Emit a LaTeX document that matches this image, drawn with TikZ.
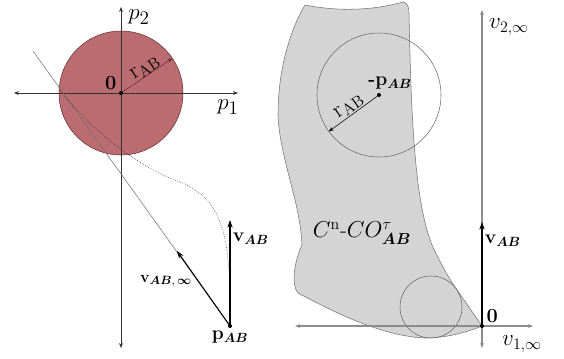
\documentclass[tikz,border=0pt]{standalone}
\usepackage{amsmath,amssymb}
\usepackage{tikz}
\usetikzlibrary{arrows.meta,positioning,calc}
\definecolor{diskred}{RGB}{186,108,112}
\definecolor{diskrim}{RGB}{105,45,50}
\definecolor{regiongray}{RGB}{212,212,212}

\begin{document}
\begin{tikzpicture}[
  x=0.75pt, y=-0.75pt,
  axis/.style={{Stealth[length=1.3mm,width=1mm]}-{Stealth[length=1.3mm,width=1mm]}, thin, black!80},
  grayaxis/.style={axis, black!45, line width=0.8pt},
  vel/.style={-{Stealth[length=2mm,width=1.4mm]}, line width=0.8pt},
  radline/.style={-{Stealth[length=1.3mm,width=1mm]}, thin},
  lbl/.style={font=\fontsize{14}{16}\selectfont, inner sep=1pt},
  biglbl/.style={font=\fontsize{19}{20}\selectfont, inner sep=1pt},
  dot/.style={circle, fill=black, inner sep=0pt, minimum size=3pt}
]
  \useasboundingbox (0,0) rectangle (564,358);

  % left: position space
  \coordinate (o1) at (121,93);
  \draw[fill=diskred, draw=diskrim, thin] (o1) circle[radius=46.5pt];
  \coordinate (p1w) at (14,93);
  \coordinate (p1e) at (238,93);
  \coordinate (p2s) at (121,348);
  \coordinate (p2n) at (121,7);
  \draw[axis] (p1w) -- (p1e);
  \draw[axis] (p2s) -- (p2n);
  \node[dot] (zero1) at (o1) {};
  \node[lbl, font=\fontsize{15}{16}\selectfont\bfseries, above left=0pt and 1pt of zero1] (zerolbl1) {0};
  \node[biglbl] (p1lbl) at (228,107) {$p_1$};
  \node[biglbl] (p2lbl) at (139,17) {$p_2$};
  \coordinate (rim1) at ($(o1)+(-34:62)$);
  \draw[radline, diskrim] (zero1) -- (rim1);
  \node[lbl, font=\fontsize{17}{18}\selectfont, rotate=34, above, inner sep=0pt] (r1lbl) at ($(o1)!0.55!(rim1)$) {$\mathrm{r}_{\mathrm{AB}}$};

  \node[dot] (pab) at (230,326) {};
  \coordinate (tan0) at (33,51);
  \draw[black!55, thin] (tan0) -- (pab.center);
  \draw[densely dotted, black!85, thin] (pab.center) .. controls (231,240) and (225,200) .. (180,182)
    .. controls (140,168) and (90,130) .. (60,90);
  \coordinate (vinf) at (177,251);
  \coordinate (vab1) at (230,220);
  \draw[vel] (pab.center) -- (vinf);
  \draw[vel] (pab.center) -- (vab1);
  \node[lbl, below=1pt of pab] (pablbl) {$\mathbf{p}_{\boldsymbol{AB}}$};
  \node[lbl, right=1pt of vab1, yshift=-14] (vablbl1) {$\mathbf{v}_{\boldsymbol{AB}}$};
  \node[lbl, font=\fontsize{13}{14}\selectfont] (vinflbl) at (166,281) {$\mathbf{v}_{\boldsymbol{AB},\,\boldsymbol{\infty}}$};

  % right: velocity space
  \draw[fill=regiongray, draw=black!55, thin] (305,5) .. controls (340,12) and (375,10) .. (403,2)
    .. controls (408,3) and (409,8) .. (409,13)
    .. controls (411,110) and (414,200) .. (432,245)
    .. controls (440,262) and (447,275) .. (453,284) -- (482,326)
    .. controls (465,333) and (445,338) .. (425,338)
    .. controls (380,336) and (330,310) .. (298,293)
    .. controls (291,285) and (294,262) .. (302,245)
    .. controls (300,200) and (280,160) .. (278,115)
    .. controls (278,70) and (290,30) .. (305,5) -- cycle;
  \coordinate (mpab) at (379,95);
  \draw[black!60] (mpab) circle[radius=46.5pt];
  \draw[black!60] (431,307) circle[radius=23.25pt];
  \node[dot] (mpabdot) at (mpab) {};
  \coordinate (rim2) at ($(mpab)+(144:62)$);
  \draw[radline] (mpabdot) -- (rim2);
  \node[lbl, font=\fontsize{17}{18}\selectfont, rotate=36, above, inner sep=1pt] (r2lbl) at ($(mpab)!0.5!(rim2)$) {$\mathrm{r}_{\mathrm{AB}}$};
  \node[lbl] (mpablbl) at (390,83) {\textbf{-}$\mathbf{p}_{\boldsymbol{AB}}$};

  \coordinate (v1w) at (295,326);
  \coordinate (v1e) at (533,326);
  \coordinate (v2s) at (482,348);
  \coordinate (v2n) at (482,10);
  \draw[grayaxis] (v1w) -- (v1e);
  \draw[grayaxis] (v2s) -- (v2n);
  \node[dot] (zero2) at (482,326) {};
  \node[lbl, font=\fontsize{15}{16}\selectfont\bfseries, above right=0pt and 1pt of zero2] (zerolbl2) {0};
  \coordinate (vab2) at (482,222);
  \draw[vel] (zero2.center) -- (vab2);
  \node[lbl, right=1pt of vab2, yshift=-14] (vablbl2) {$\mathbf{v}_{\boldsymbol{AB}}$};
  \node[lbl, font=\fontsize{18}{19}\selectfont] (v1lbl) at (522,344) {$v_{1,\infty}$};
  \node[lbl, font=\fontsize{18}{19}\selectfont] (v2lbl) at (509,27) {$v_{2,\infty}$};
  \node[lbl, font=\fontsize{17}{18}\selectfont] (conelbl) at (362,233) {$C^{\mathrm{n}}\text{-}CO^{\tau}_{\boldsymbol{AB}}$};
\end{tikzpicture}
\end{document}
